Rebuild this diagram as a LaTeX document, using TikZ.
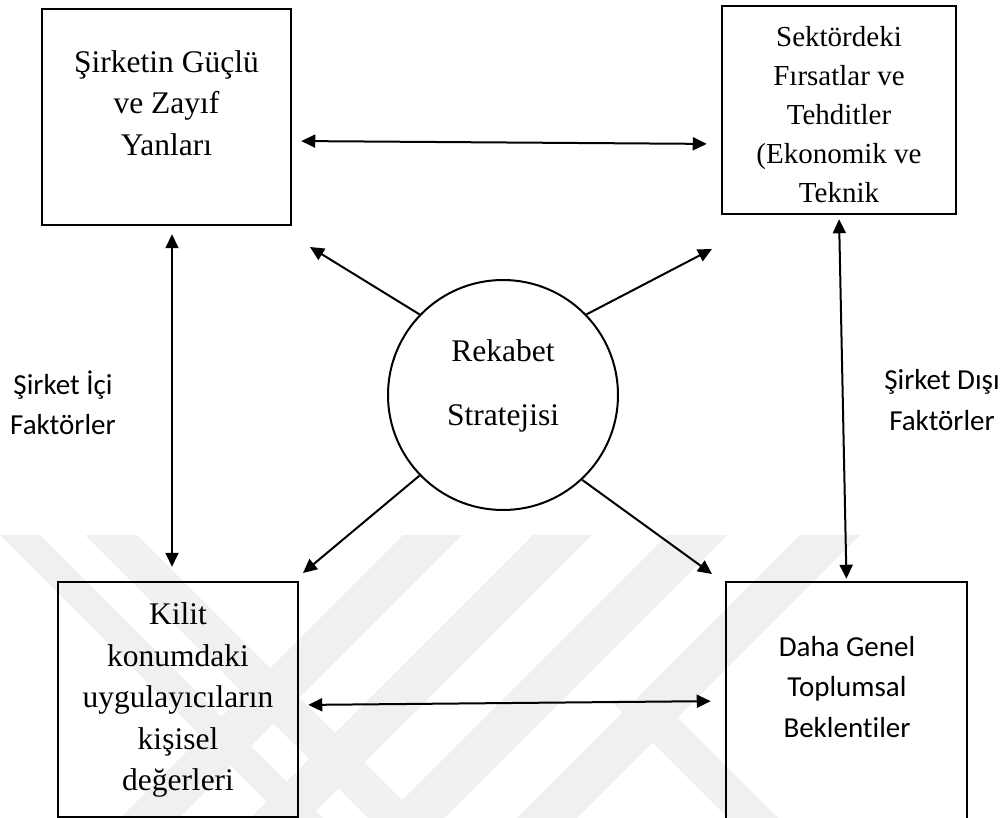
\documentclass[tikz,border=0pt]{standalone}
\usepackage{fontspec}
\setmainfont{Liberation Serif}
\newfontfamily\calib[Ligatures={NoCommon}]{Carlito}
\usetikzlibrary{arrows.meta}
\tikzset{
  box/.style={draw, line width=2.5pt, rectangle, inner sep=0pt},
  ring/.style={draw, line width=2pt, circle, inner sep=0pt},
  serif/.style={align=center, font=\fontsize{31.5}{41.5}\selectfont},
  serifsm/.style={align=center, font=\fontsize{29}{39}\selectfont},
  sans/.style={align=center, font=\calib\fontsize{29}{40.5}\selectfont},
  arr/.style={line width=2pt, -{Triangle[length=14pt,width=13pt]}},
  biarr/.style={line width=2pt, {Triangle[length=14pt,width=13pt]}-{Triangle[length=14pt,width=13pt]}},
  wm/.style={fill=black!6, draw=none},
}
\begin{document}
\begin{tikzpicture}[x=1pt,y=-1pt]
\useasboundingbox (0,0) rectangle (1005,818);
% faint background watermark stripes
\begin{scope}
\clip (0,535) rectangle (1005,818);
\fill[wm] (0,535) -- (40,535) -- (323,818) -- (283,818) -- cycle;
\fill[wm] (85,535) -- (137,535) -- (420,818) -- (368,818) -- cycle;
\fill[wm] (403,535) -- (462,535) -- (179,818) -- (120,818) -- cycle;
\fill[wm] (533,535) -- (592,535) -- (309,818) -- (250,818) -- cycle;
\fill[wm] (667,535) -- (727,535) -- (444,818) -- (384,818) -- cycle;
\fill[wm] (800,535) -- (860,535) -- (577,818) -- (517,818) -- cycle;
\fill[wm] (610,700) -- (660,700) -- (778,818) -- (728,818) -- cycle;
\end{scope}
% boxes
\node[box, minimum width=249pt, minimum height=216pt] (b1) at (166.5,117) {};
\node[box, minimum width=234pt, minimum height=208pt] (b2) at (839,110) {};
\node[box, minimum width=240pt, minimum height=235pt] (b3) at (178,699.5) {};
\node[box, minimum width=241pt, minimum height=260pt] (b4) at (846.5,712) {};
\node[ring, minimum size=230pt] (c) at (503,395) {};
% texts
\node[serif] (t1) at (166.5,103) {Şirketin Güçlü\\ve Zayıf\\Yanları};
\node[serifsm] (t2) at (839,115) {Sektördeki\\Fırsatlar ve\\Tehditler\\(Ekonomik ve\\Teknik};
\node[serif] (t3) at (178,700) {Kilit\\konumdaki\\uygulayıcıların\\kişisel\\değerleri};
\node[sans] (t4) at (847,687) {Daha Genel\\Toplumsal\\Beklentiler};
\node[serif, font=\fontsize{31.5}{64}\selectfont] (tc) at (503,386) {Rekabet\\Stratejisi};
\node[sans] (l1) at (63,403) {Şirket İçi\\Faktörler};
\node[sans] (l2) at (942,400) {Şirket Dışı\\Faktörler};
% free ends
\coordinate (ul) at (310,247);
\coordinate (ur) at (712,249);
\coordinate (ll) at (303,573);
\coordinate (lr) at (712,574);
% connectors
\draw[biarr, shorten <=9pt, shorten >=14pt] (b1.east |- 0,141) -- (b2.west |- 0,144);
\draw[biarr, shorten <=9pt, shorten >=14pt] (b3.east |- 0,705) -- (b4.west |- 0,701);
\draw[biarr, shorten <=8pt, shorten >=14pt] (b1.south -| 172,0) -- (b3.north -| 172,0);
\draw[biarr, shorten <=4pt, shorten >=2pt] (b2.south) -- (b4.north);
\draw[arr] (c.136) -- (ul);
\draw[arr] (c.44) -- (ur);
\draw[arr] (c.224) -- (ll);
\draw[arr] (c.313) -- (lr);
\end{tikzpicture}
\end{document}
